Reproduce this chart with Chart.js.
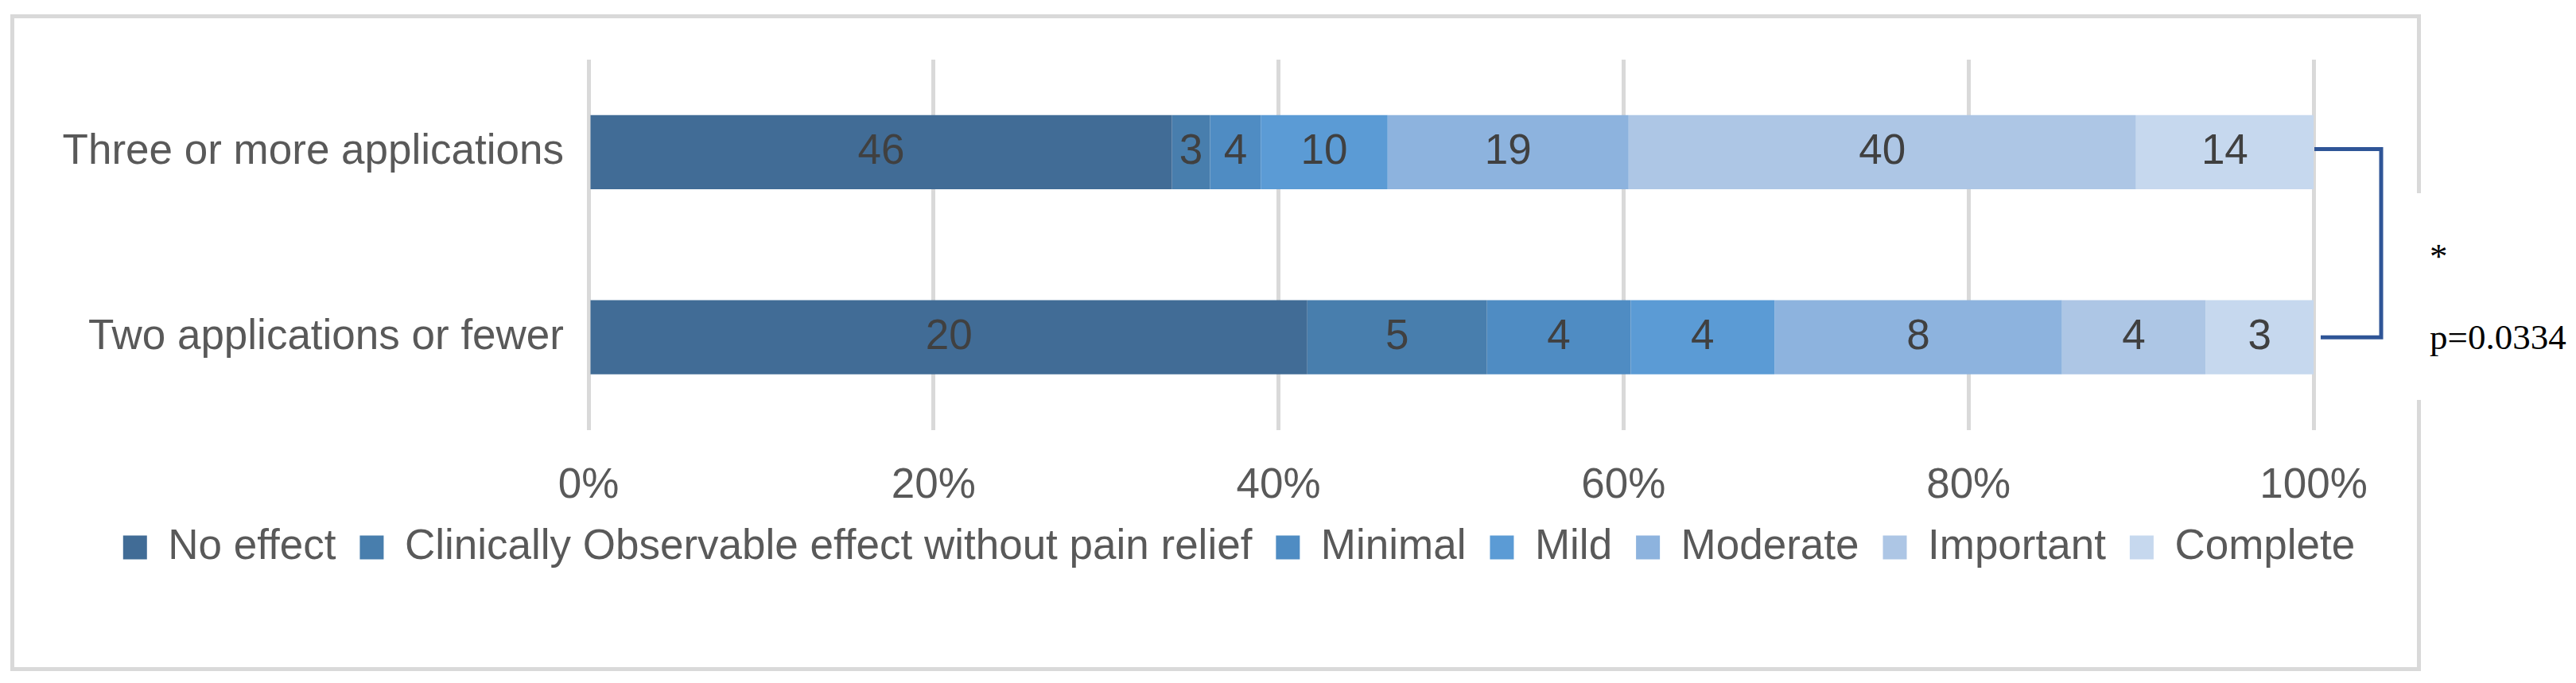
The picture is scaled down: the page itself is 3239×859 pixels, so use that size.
<!DOCTYPE html>
<html>
<head>
<meta charset="utf-8">
<title>Pain relief by number of applications</title>
<script src="https://cdn.jsdelivr.net/npm/chart.js@4.4.1/dist/chart.umd.min.js"></script>
<style>
  html, body { margin: 0; padding: 0; background: #fff; }
  body { width: 3239px; height: 859px; position: relative; overflow: hidden; }
  #frame { position: absolute; left: 13px; top: 18px; width: 3031px; height: 826px; box-sizing: border-box; border: 5px solid #d9d9d9; }
  #chartBox { position: absolute; left: 0; top: 0; width: 3239px; height: 859px; }
  #note { position: absolute; left: 3030px; top: 243px; width: 209px; height: 260px; background: #fff;
          font-family: 'Liberation Serif', 'Times New Roman', serif; font-size: 45px; line-height: 45px; color: #000; }
  #note .star { position: absolute; left: 25px; top: 57px; }
  #note .pval { position: absolute; left: 25px; top: 159px; white-space: nowrap; }
</style>
</head>
<body>
<div id="frame"></div>
<div id="chartBox"><canvas id="reliefChart"></canvas></div>
<div id="note"><span class="star">*</span><span class="pval">p=0.0334</span></div>
<script>
const categories = ['Three or more applications', 'Two applications or fewer'];
const responseLevels = [
  'No effect',
  'Clinically Observable effect without pain relief',
  'Minimal',
  'Mild',
  'Moderate',
  'Important',
  'Complete',
];
const threeOrMore = [46, 3, 4, 10, 19, 40, 14];
const twoOrFewer = [20, 5, 4, 4, 8, 4, 3];
const xTickLabels = ['0%', '20%', '40%', '60%', '80%', '100%'];

const COLORS = ['#416c96', '#487ead', '#4f8cc3', '#5b9bd5', '#8db3de', '#adc6e5', '#c6d8ee'];
const FONT = "'Liberation Sans', Arial, sans-serif";
const TEXT = '#595959';

const groups = [threeOrMore, twoOrFewer];
const totals = groups.map((g) => g.reduce((a, b) => a + b, 0));

const datasets = responseLevels.map((name, i) => ({
  label: name,
  data: groups.map((g, k) => (g[i] / totals[k]) * 100),
  counts: groups.map((g) => g[i]),
  backgroundColor: COLORS[i],
  borderWidth: 0,
  barPercentage: 0.4,
  categoryPercentage: 1,
}));

// counts written in the middle of each segment
const segmentLabels = {
  id: 'segmentLabels',
  afterDatasetsDraw(chart) {
    const { ctx } = chart;
    ctx.save();
    ctx.font = `53px ${FONT}`;
    ctx.fillStyle = '#404040';
    ctx.textAlign = 'center';
    ctx.textBaseline = 'middle';
    chart.data.datasets.forEach((ds, i) => {
      chart.getDatasetMeta(i).data.forEach((bar, k) => {
        const { x, y } = bar.getCenterPoint();
        ctx.fillText(String(ds.counts[k]), x, y);
      });
    });
    ctx.restore();
  },
};

// significance bracket joining the two bars
const bracket = {
  id: 'bracket',
  afterDraw(chart) {
    const { ctx, chartArea } = chart;
    const yScale = chart.scales.y;
    const top = yScale.getPixelForValue(0) - 4;
    const bottom = yScale.getPixelForValue(1);
    const right = chartArea.right + 85;
    ctx.save();
    ctx.strokeStyle = '#2f5597';
    ctx.lineWidth = 5;
    ctx.lineJoin = 'miter';
    ctx.beginPath();
    ctx.moveTo(chartArea.right + 1, top);
    ctx.lineTo(right, top);
    ctx.lineTo(right, bottom);
    ctx.lineTo(chartArea.right + 9, bottom);
    ctx.stroke();
    ctx.restore();
  },
};

document.addEventListener('DOMContentLoaded', () => {
  new Chart(document.getElementById('reliefChart'), {
    type: 'bar',
    data: { labels: categories, datasets },
    plugins: [segmentLabels, bracket],
    options: {
      indexAxis: 'y',
      responsive: true,
      maintainAspectRatio: false,
      devicePixelRatio: 1,
      animation: false,
      layout: { padding: { left: 0, right: 123, top: 75, bottom: 134 } },
      plugins: {
        legend: {
          position: 'bottom',
          labels: {
            font: { family: FONT, size: 53 },
            color: TEXT,
            boxWidth: 30,
            boxHeight: 30,
            padding: 30,
          },
        },
        tooltip: { enabled: false },
      },
      scales: {
        x: {
          stacked: true,
          min: 0,
          max: 100,
          ticks: {
            stepSize: 20,
            padding: 39,
            color: TEXT,
            font: { family: FONT, size: 53 },
            maxRotation: 0,
            callback: (v, i) => xTickLabels[i],
          },
          grid: { color: '#d9d9d9', lineWidth: 5, drawTicks: false },
          border: { display: false },
          afterFit: (s) => { s.height = 91.5; },
        },
        y: {
          stacked: true,
          ticks: { padding: 31, color: TEXT, font: { family: FONT, size: 53 } },
          grid: { display: false, drawTicks: false },
          border: { display: false },
          afterFit: (s) => { s.width = 740; },
        },
        // empty right-hand box that keeps room for the bracket
        side: {
          axis: 'y',
          position: 'right',
          ticks: { display: false },
          grid: { display: false, drawTicks: false },
          border: { display: false },
          afterFit: (s) => { s.width = 207; },
        },
      },
    },
  });
});
</script>
</body>
</html>
